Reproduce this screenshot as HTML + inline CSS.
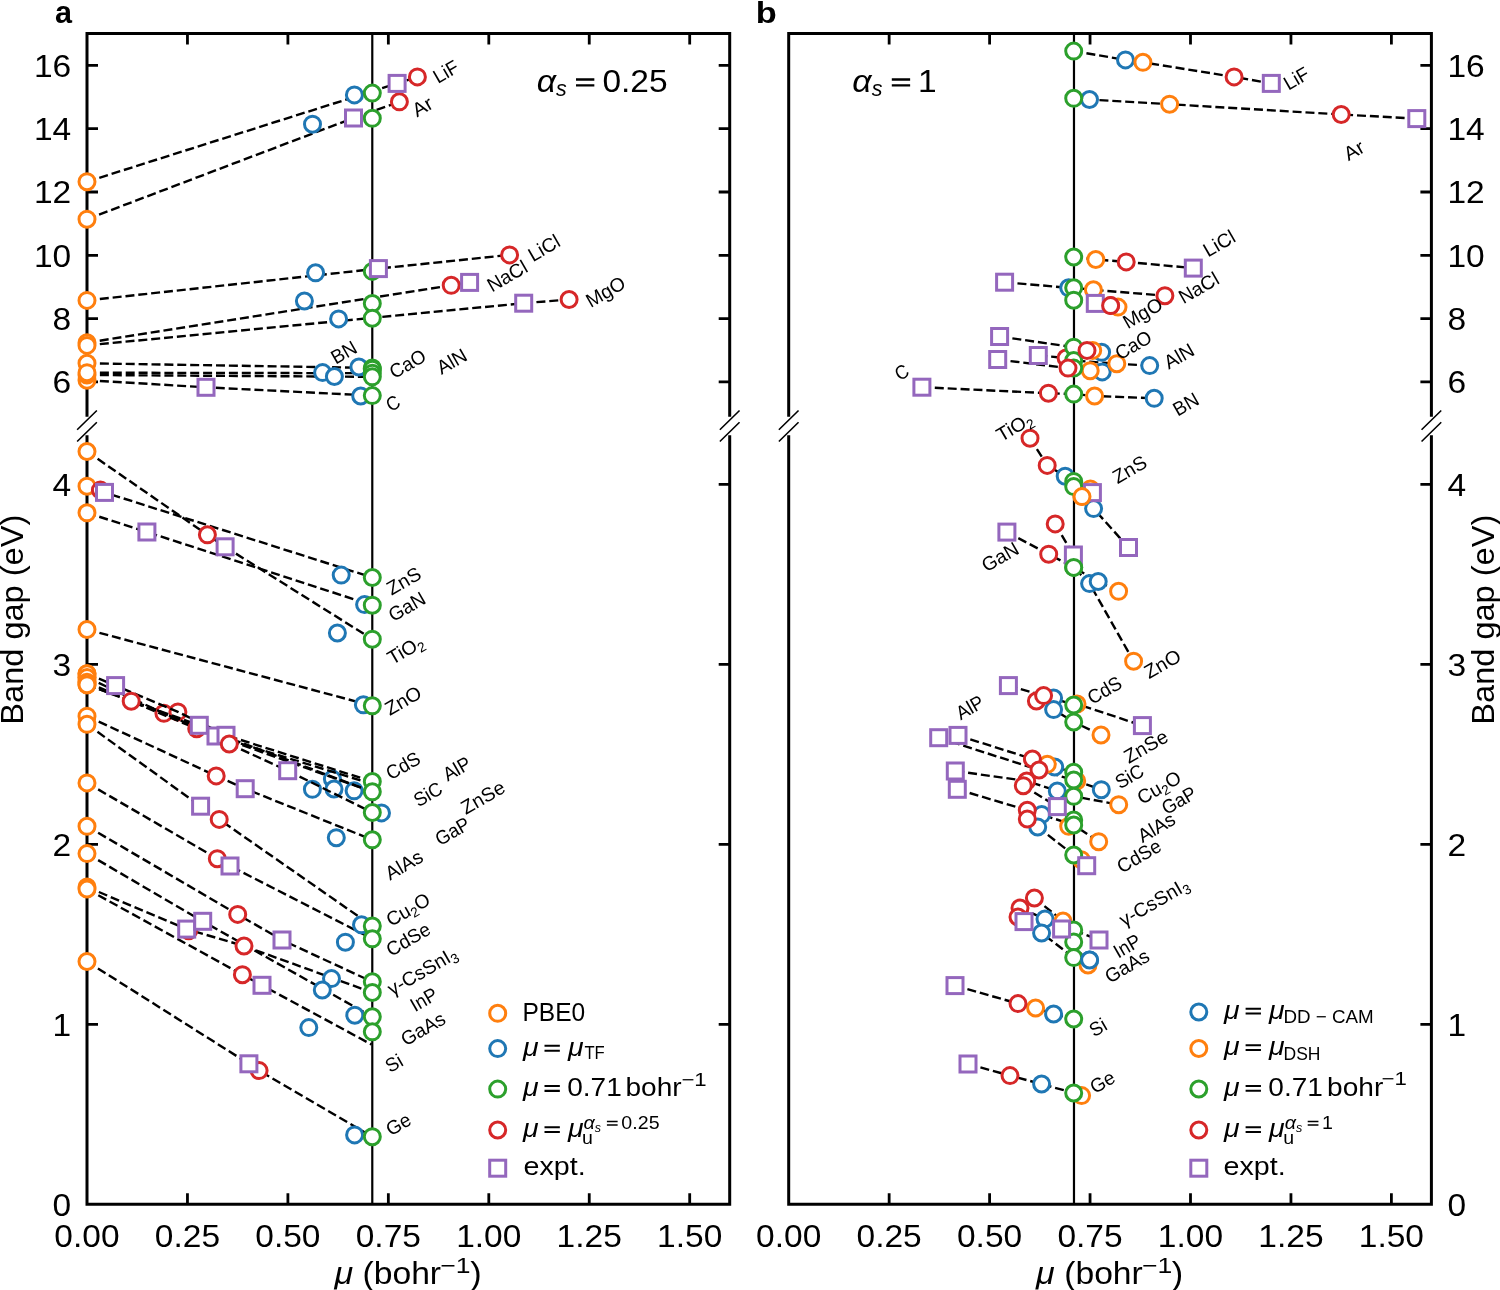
<!DOCTYPE html><html><head><meta charset="utf-8"><title>Band gap vs mu</title><style>html,body{margin:0;padding:0;background:#fff;overflow:hidden}svg{display:block;will-change:transform}text{font-family:"Liberation Sans",sans-serif;fill:#000}</style></head><body>
<svg width="1500" height="1290" viewBox="0 0 1500 1290">
<rect width="1500" height="1290" fill="#fff"/>
<path d="M372.28 33.60V1204.30" stroke="#000" stroke-width="2.2" fill="none"/>
<path d="M87.00 181.70L397.10 83.40L417.40 76.90" fill="none" stroke="#000" stroke-width="2.4" stroke-dasharray="9.0 3.9"/>
<path d="M87.00 219.20L353.50 118.00L399.40 101.80" fill="none" stroke="#000" stroke-width="2.4" stroke-dasharray="9.0 3.9"/>
<path d="M87.00 300.40L378.40 268.60L509.60 254.90" fill="none" stroke="#000" stroke-width="2.4" stroke-dasharray="9.0 3.9"/>
<path d="M87.00 342.70L451.20 285.30L469.60 282.40" fill="none" stroke="#000" stroke-width="2.4" stroke-dasharray="9.0 3.9"/>
<path d="M87.00 345.40L523.70 303.20L569.10 299.50" fill="none" stroke="#000" stroke-width="2.4" stroke-dasharray="9.0 3.9"/>
<path d="M87.00 363.30L372.10 367.90" fill="none" stroke="#000" stroke-width="2.4" stroke-dasharray="9.0 3.9"/>
<path d="M87.00 372.70L372.10 373.20" fill="none" stroke="#000" stroke-width="2.4" stroke-dasharray="9.0 3.9"/>
<path d="M87.00 375.00L372.10 376.80" fill="none" stroke="#000" stroke-width="2.4" stroke-dasharray="9.0 3.9"/>
<path d="M87.00 380.20L206.00 387.30L372.10 395.60" fill="none" stroke="#000" stroke-width="2.4" stroke-dasharray="9.0 3.9"/>
<path d="M87.00 451.50L207.40 534.80L225.10 546.80L372.30 639.20" fill="none" stroke="#000" stroke-width="2.4" stroke-dasharray="9.0 3.9"/>
<path d="M87.00 486.20L104.50 492.40L372.30 577.50" fill="none" stroke="#000" stroke-width="2.4" stroke-dasharray="9.0 3.9"/>
<path d="M87.00 512.80L146.90 532.00L372.30 605.20" fill="none" stroke="#000" stroke-width="2.4" stroke-dasharray="9.0 3.9"/>
<path d="M87.00 629.50L372.30 705.80" fill="none" stroke="#000" stroke-width="2.4" stroke-dasharray="9.0 3.9"/>
<path d="M87.00 716.20L216.20 775.90L245.20 788.70L372.30 839.80" fill="none" stroke="#000" stroke-width="2.4" stroke-dasharray="9.0 3.9"/>
<path d="M87.00 724.30L200.60 806.20L219.20 819.40L372.30 926.00" fill="none" stroke="#000" stroke-width="2.4" stroke-dasharray="9.0 3.9"/>
<path d="M87.00 782.90L217.30 858.70L230.00 866.00L372.30 938.80" fill="none" stroke="#000" stroke-width="2.4" stroke-dasharray="9.0 3.9"/>
<path d="M87.00 826.30L237.70 914.40L282.00 940.00L372.30 981.80" fill="none" stroke="#000" stroke-width="2.4" stroke-dasharray="9.0 3.9"/>
<path d="M87.00 853.60L202.70 921.30L372.30 1016.80" fill="none" stroke="#000" stroke-width="2.4" stroke-dasharray="9.0 3.9"/>
<path d="M87.00 887.00L186.70 929.10L244.00 946.00L372.30 992.50" fill="none" stroke="#000" stroke-width="2.4" stroke-dasharray="9.0 3.9"/>
<path d="M87.00 889.00L242.40 974.70L262.00 985.30L371.50 1044.50" fill="none" stroke="#000" stroke-width="2.4" stroke-dasharray="9.0 3.9"/>
<path d="M87.00 961.50L248.90 1063.80L259.10 1070.60L372.30 1136.70" fill="none" stroke="#000" stroke-width="2.4" stroke-dasharray="9.0 3.9"/>
<path d="M87.00 416.70V33.60H729.70V416.70" fill="none" stroke="#000" stroke-width="3.0" stroke-linejoin="miter" stroke-linecap="butt"/>
<path d="M87.00 435.20V1204.30H729.70V435.20" fill="none" stroke="#000" stroke-width="3.0" stroke-linejoin="miter" stroke-linecap="butt"/>
<path d="M187.45 33.60v11.0M187.45 1204.30v-11.0M287.90 33.60v11.0M287.90 1204.30v-11.0M388.35 33.60v11.0M388.35 1204.30v-11.0M488.80 33.60v11.0M488.80 1204.30v-11.0M589.25 33.60v11.0M589.25 1204.30v-11.0M689.70 33.60v11.0M689.70 1204.30v-11.0M87.00 381.90h11.0M729.70 381.90h-11.0M87.00 318.60h11.0M729.70 318.60h-11.0M87.00 255.30h11.0M729.70 255.30h-11.0M87.00 192.00h11.0M729.70 192.00h-11.0M87.00 128.70h11.0M729.70 128.70h-11.0M87.00 65.40h11.0M729.70 65.40h-11.0M87.00 1024.30h11.0M729.70 1024.30h-11.0M87.00 844.30h11.0M729.70 844.30h-11.0M87.00 664.30h11.0M729.70 664.30h-11.0M87.00 484.30h11.0M729.70 484.30h-11.0" stroke="#000" stroke-width="2.8" fill="none"/>
<path d="M77.15 429.70L96.85 410.50M77.15 441.50L96.85 422.30M719.85 429.70L739.55 410.50M719.85 441.50L739.55 422.30" stroke="#000" stroke-width="1.6" fill="none"/>
<circle cx="87.00" cy="181.70" r="8.0" fill="#fff" stroke="#ff7f0e" stroke-width="3.0"/>
<circle cx="87.00" cy="219.20" r="8.0" fill="#fff" stroke="#ff7f0e" stroke-width="3.0"/>
<circle cx="87.00" cy="300.40" r="8.0" fill="#fff" stroke="#ff7f0e" stroke-width="3.0"/>
<circle cx="87.00" cy="342.70" r="8.0" fill="#fff" stroke="#ff7f0e" stroke-width="3.0"/>
<circle cx="87.00" cy="345.40" r="8.0" fill="#fff" stroke="#ff7f0e" stroke-width="3.0"/>
<circle cx="87.00" cy="363.30" r="8.0" fill="#fff" stroke="#ff7f0e" stroke-width="3.0"/>
<circle cx="87.00" cy="380.20" r="8.0" fill="#fff" stroke="#ff7f0e" stroke-width="3.0"/>
<circle cx="87.00" cy="375.00" r="8.0" fill="#fff" stroke="#ff7f0e" stroke-width="3.0"/>
<circle cx="87.00" cy="372.70" r="8.0" fill="#fff" stroke="#ff7f0e" stroke-width="3.0"/>
<circle cx="87.00" cy="451.50" r="8.0" fill="#fff" stroke="#ff7f0e" stroke-width="3.0"/>
<circle cx="87.00" cy="486.20" r="8.0" fill="#fff" stroke="#ff7f0e" stroke-width="3.0"/>
<circle cx="87.00" cy="512.80" r="8.0" fill="#fff" stroke="#ff7f0e" stroke-width="3.0"/>
<circle cx="87.00" cy="629.50" r="8.0" fill="#fff" stroke="#ff7f0e" stroke-width="3.0"/>
<circle cx="87.00" cy="673.70" r="8.0" fill="#fff" stroke="#ff7f0e" stroke-width="3.0"/>
<circle cx="87.00" cy="677.50" r="8.0" fill="#fff" stroke="#ff7f0e" stroke-width="3.0"/>
<circle cx="87.00" cy="682.20" r="8.0" fill="#fff" stroke="#ff7f0e" stroke-width="3.0"/>
<circle cx="87.00" cy="684.70" r="8.0" fill="#fff" stroke="#ff7f0e" stroke-width="3.0"/>
<circle cx="87.00" cy="716.20" r="8.0" fill="#fff" stroke="#ff7f0e" stroke-width="3.0"/>
<circle cx="87.00" cy="724.30" r="8.0" fill="#fff" stroke="#ff7f0e" stroke-width="3.0"/>
<circle cx="87.00" cy="782.90" r="8.0" fill="#fff" stroke="#ff7f0e" stroke-width="3.0"/>
<circle cx="87.00" cy="826.30" r="8.0" fill="#fff" stroke="#ff7f0e" stroke-width="3.0"/>
<circle cx="87.00" cy="853.60" r="8.0" fill="#fff" stroke="#ff7f0e" stroke-width="3.0"/>
<circle cx="87.00" cy="887.00" r="8.0" fill="#fff" stroke="#ff7f0e" stroke-width="3.0"/>
<circle cx="87.00" cy="889.00" r="8.0" fill="#fff" stroke="#ff7f0e" stroke-width="3.0"/>
<circle cx="87.00" cy="961.50" r="8.0" fill="#fff" stroke="#ff7f0e" stroke-width="3.0"/>
<circle cx="354.40" cy="94.90" r="8.0" fill="#fff" stroke="#1f77b4" stroke-width="3.0"/>
<circle cx="312.50" cy="124.20" r="8.0" fill="#fff" stroke="#1f77b4" stroke-width="3.0"/>
<circle cx="315.60" cy="272.80" r="8.0" fill="#fff" stroke="#1f77b4" stroke-width="3.0"/>
<circle cx="304.40" cy="301.00" r="8.0" fill="#fff" stroke="#1f77b4" stroke-width="3.0"/>
<circle cx="338.60" cy="318.90" r="8.0" fill="#fff" stroke="#1f77b4" stroke-width="3.0"/>
<circle cx="322.60" cy="372.60" r="8.0" fill="#fff" stroke="#1f77b4" stroke-width="3.0"/>
<circle cx="334.40" cy="376.50" r="8.0" fill="#fff" stroke="#1f77b4" stroke-width="3.0"/>
<circle cx="358.90" cy="367.00" r="8.0" fill="#fff" stroke="#1f77b4" stroke-width="3.0"/>
<circle cx="360.70" cy="396.00" r="8.0" fill="#fff" stroke="#1f77b4" stroke-width="3.0"/>
<circle cx="341.20" cy="575.10" r="8.0" fill="#fff" stroke="#1f77b4" stroke-width="3.0"/>
<circle cx="364.60" cy="604.60" r="8.0" fill="#fff" stroke="#1f77b4" stroke-width="3.0"/>
<circle cx="337.40" cy="633.00" r="8.0" fill="#fff" stroke="#1f77b4" stroke-width="3.0"/>
<circle cx="363.40" cy="704.80" r="8.0" fill="#fff" stroke="#1f77b4" stroke-width="3.0"/>
<circle cx="332.40" cy="779.10" r="8.0" fill="#fff" stroke="#1f77b4" stroke-width="3.0"/>
<circle cx="312.40" cy="789.30" r="8.0" fill="#fff" stroke="#1f77b4" stroke-width="3.0"/>
<circle cx="334.00" cy="789.00" r="8.0" fill="#fff" stroke="#1f77b4" stroke-width="3.0"/>
<circle cx="354.10" cy="790.80" r="8.0" fill="#fff" stroke="#1f77b4" stroke-width="3.0"/>
<circle cx="381.50" cy="812.90" r="8.0" fill="#fff" stroke="#1f77b4" stroke-width="3.0"/>
<circle cx="336.30" cy="837.70" r="8.0" fill="#fff" stroke="#1f77b4" stroke-width="3.0"/>
<circle cx="361.50" cy="924.80" r="8.0" fill="#fff" stroke="#1f77b4" stroke-width="3.0"/>
<circle cx="345.40" cy="942.20" r="8.0" fill="#fff" stroke="#1f77b4" stroke-width="3.0"/>
<circle cx="331.50" cy="978.60" r="8.0" fill="#fff" stroke="#1f77b4" stroke-width="3.0"/>
<circle cx="322.30" cy="990.00" r="8.0" fill="#fff" stroke="#1f77b4" stroke-width="3.0"/>
<circle cx="354.80" cy="1015.20" r="8.0" fill="#fff" stroke="#1f77b4" stroke-width="3.0"/>
<circle cx="308.80" cy="1027.60" r="8.0" fill="#fff" stroke="#1f77b4" stroke-width="3.0"/>
<circle cx="354.60" cy="1134.90" r="8.0" fill="#fff" stroke="#1f77b4" stroke-width="3.0"/>
<circle cx="163.90" cy="713.30" r="8.0" fill="#fff" stroke="#d62728" stroke-width="3.0"/>
<circle cx="177.90" cy="711.90" r="8.0" fill="#fff" stroke="#d62728" stroke-width="3.0"/>
<path d="M87.00 673.70L115.60 685.60L177.90 711.90L226.00 735.30L372.30 781.50" fill="none" stroke="#000" stroke-width="2.4" stroke-dasharray="9.0 3.9"/>
<path d="M87.00 677.50L163.90 713.30L216.00 736.00L372.30 784.00" fill="none" stroke="#000" stroke-width="2.4" stroke-dasharray="9.0 3.9"/>
<path d="M87.00 682.20L131.20 701.20L196.70 728.70L372.30 791.80" fill="none" stroke="#000" stroke-width="2.4" stroke-dasharray="9.0 3.9"/>
<path d="M87.00 684.70L199.30 725.30L229.30 744.00L287.70 770.70L372.30 812.50" fill="none" stroke="#000" stroke-width="2.4" stroke-dasharray="9.0 3.9"/>
<path d="M87.00 684.70L372.30 791.80" fill="none" stroke="#000" stroke-width="2.4" stroke-dasharray="9.0 3.9"/>
<circle cx="87.00" cy="673.70" r="8.0" fill="#fff" stroke="#ff7f0e" stroke-width="3.0"/>
<circle cx="87.00" cy="677.50" r="8.0" fill="#fff" stroke="#ff7f0e" stroke-width="3.0"/>
<circle cx="87.00" cy="682.20" r="8.0" fill="#fff" stroke="#ff7f0e" stroke-width="3.0"/>
<circle cx="87.00" cy="684.70" r="8.0" fill="#fff" stroke="#ff7f0e" stroke-width="3.0"/>
<circle cx="372.30" cy="93.10" r="8.0" fill="#fff" stroke="#2ca02c" stroke-width="3.0"/>
<circle cx="372.30" cy="118.30" r="8.0" fill="#fff" stroke="#2ca02c" stroke-width="3.0"/>
<circle cx="372.30" cy="271.40" r="8.0" fill="#fff" stroke="#2ca02c" stroke-width="3.0"/>
<circle cx="372.30" cy="303.50" r="8.0" fill="#fff" stroke="#2ca02c" stroke-width="3.0"/>
<circle cx="372.30" cy="318.20" r="8.0" fill="#fff" stroke="#2ca02c" stroke-width="3.0"/>
<circle cx="372.30" cy="367.90" r="8.0" fill="#fff" stroke="#2ca02c" stroke-width="3.0"/>
<circle cx="372.30" cy="369.20" r="8.0" fill="#fff" stroke="#2ca02c" stroke-width="3.0"/>
<circle cx="372.30" cy="373.20" r="8.0" fill="#fff" stroke="#2ca02c" stroke-width="3.0"/>
<circle cx="372.30" cy="376.80" r="8.0" fill="#fff" stroke="#2ca02c" stroke-width="3.0"/>
<circle cx="372.30" cy="395.60" r="8.0" fill="#fff" stroke="#2ca02c" stroke-width="3.0"/>
<circle cx="372.30" cy="577.50" r="8.0" fill="#fff" stroke="#2ca02c" stroke-width="3.0"/>
<circle cx="372.30" cy="605.20" r="8.0" fill="#fff" stroke="#2ca02c" stroke-width="3.0"/>
<circle cx="372.30" cy="639.20" r="8.0" fill="#fff" stroke="#2ca02c" stroke-width="3.0"/>
<circle cx="372.30" cy="705.80" r="8.0" fill="#fff" stroke="#2ca02c" stroke-width="3.0"/>
<circle cx="372.30" cy="781.50" r="8.0" fill="#fff" stroke="#2ca02c" stroke-width="3.0"/>
<circle cx="372.30" cy="791.80" r="8.0" fill="#fff" stroke="#2ca02c" stroke-width="3.0"/>
<circle cx="372.30" cy="812.50" r="8.0" fill="#fff" stroke="#2ca02c" stroke-width="3.0"/>
<circle cx="372.30" cy="839.80" r="8.0" fill="#fff" stroke="#2ca02c" stroke-width="3.0"/>
<circle cx="372.30" cy="926.00" r="8.0" fill="#fff" stroke="#2ca02c" stroke-width="3.0"/>
<circle cx="372.30" cy="938.80" r="8.0" fill="#fff" stroke="#2ca02c" stroke-width="3.0"/>
<circle cx="372.30" cy="981.80" r="8.0" fill="#fff" stroke="#2ca02c" stroke-width="3.0"/>
<circle cx="372.30" cy="992.50" r="8.0" fill="#fff" stroke="#2ca02c" stroke-width="3.0"/>
<circle cx="372.30" cy="1016.80" r="8.0" fill="#fff" stroke="#2ca02c" stroke-width="3.0"/>
<circle cx="372.30" cy="1031.80" r="8.0" fill="#fff" stroke="#2ca02c" stroke-width="3.0"/>
<circle cx="372.30" cy="1136.70" r="8.0" fill="#fff" stroke="#2ca02c" stroke-width="3.0"/>
<circle cx="417.40" cy="76.90" r="8.0" fill="#fff" stroke="#d62728" stroke-width="3.0"/>
<circle cx="399.40" cy="101.80" r="8.0" fill="#fff" stroke="#d62728" stroke-width="3.0"/>
<circle cx="509.60" cy="254.90" r="8.0" fill="#fff" stroke="#d62728" stroke-width="3.0"/>
<circle cx="451.20" cy="285.30" r="8.0" fill="#fff" stroke="#d62728" stroke-width="3.0"/>
<circle cx="569.10" cy="299.50" r="8.0" fill="#fff" stroke="#d62728" stroke-width="3.0"/>
<circle cx="100.40" cy="490.10" r="8.0" fill="#fff" stroke="#d62728" stroke-width="3.0"/>
<circle cx="207.40" cy="534.80" r="8.0" fill="#fff" stroke="#d62728" stroke-width="3.0"/>
<circle cx="131.20" cy="701.20" r="8.0" fill="#fff" stroke="#d62728" stroke-width="3.0"/>
<circle cx="196.70" cy="728.70" r="8.0" fill="#fff" stroke="#d62728" stroke-width="3.0"/>
<circle cx="216.20" cy="775.90" r="8.0" fill="#fff" stroke="#d62728" stroke-width="3.0"/>
<circle cx="219.20" cy="819.40" r="8.0" fill="#fff" stroke="#d62728" stroke-width="3.0"/>
<circle cx="217.30" cy="858.70" r="8.0" fill="#fff" stroke="#d62728" stroke-width="3.0"/>
<circle cx="237.70" cy="914.40" r="8.0" fill="#fff" stroke="#d62728" stroke-width="3.0"/>
<circle cx="188.70" cy="930.70" r="8.0" fill="#fff" stroke="#d62728" stroke-width="3.0"/>
<circle cx="244.00" cy="946.00" r="8.0" fill="#fff" stroke="#d62728" stroke-width="3.0"/>
<circle cx="242.40" cy="974.70" r="8.0" fill="#fff" stroke="#d62728" stroke-width="3.0"/>
<circle cx="259.10" cy="1070.60" r="8.0" fill="#fff" stroke="#d62728" stroke-width="3.0"/>
<rect x="389.10" y="75.40" width="16.00" height="16.00" fill="#fff" stroke="#9467bd" stroke-width="3.0"/>
<rect x="345.50" y="110.00" width="16.00" height="16.00" fill="#fff" stroke="#9467bd" stroke-width="3.0"/>
<rect x="370.40" y="260.60" width="16.00" height="16.00" fill="#fff" stroke="#9467bd" stroke-width="3.0"/>
<rect x="461.60" y="274.40" width="16.00" height="16.00" fill="#fff" stroke="#9467bd" stroke-width="3.0"/>
<rect x="515.70" y="295.20" width="16.00" height="16.00" fill="#fff" stroke="#9467bd" stroke-width="3.0"/>
<rect x="198.00" y="379.30" width="16.00" height="16.00" fill="#fff" stroke="#9467bd" stroke-width="3.0"/>
<rect x="96.50" y="484.40" width="16.00" height="16.00" fill="#fff" stroke="#9467bd" stroke-width="3.0"/>
<rect x="138.90" y="524.00" width="16.00" height="16.00" fill="#fff" stroke="#9467bd" stroke-width="3.0"/>
<rect x="217.10" y="538.80" width="16.00" height="16.00" fill="#fff" stroke="#9467bd" stroke-width="3.0"/>
<rect x="107.60" y="677.60" width="16.00" height="16.00" fill="#fff" stroke="#9467bd" stroke-width="3.0"/>
<rect x="191.30" y="717.30" width="16.00" height="16.00" fill="#fff" stroke="#9467bd" stroke-width="3.0"/>
<rect x="208.00" y="728.00" width="16.00" height="16.00" fill="#fff" stroke="#9467bd" stroke-width="3.0"/>
<rect x="218.00" y="727.30" width="16.00" height="16.00" fill="#fff" stroke="#9467bd" stroke-width="3.0"/>
<rect x="279.70" y="762.70" width="16.00" height="16.00" fill="#fff" stroke="#9467bd" stroke-width="3.0"/>
<rect x="237.20" y="780.70" width="16.00" height="16.00" fill="#fff" stroke="#9467bd" stroke-width="3.0"/>
<rect x="192.60" y="798.20" width="16.00" height="16.00" fill="#fff" stroke="#9467bd" stroke-width="3.0"/>
<rect x="222.00" y="858.00" width="16.00" height="16.00" fill="#fff" stroke="#9467bd" stroke-width="3.0"/>
<rect x="178.70" y="921.10" width="16.00" height="16.00" fill="#fff" stroke="#9467bd" stroke-width="3.0"/>
<rect x="194.70" y="913.30" width="16.00" height="16.00" fill="#fff" stroke="#9467bd" stroke-width="3.0"/>
<rect x="274.00" y="932.00" width="16.00" height="16.00" fill="#fff" stroke="#9467bd" stroke-width="3.0"/>
<rect x="254.00" y="977.30" width="16.00" height="16.00" fill="#fff" stroke="#9467bd" stroke-width="3.0"/>
<rect x="240.90" y="1055.80" width="16.00" height="16.00" fill="#fff" stroke="#9467bd" stroke-width="3.0"/>
<circle cx="229.30" cy="744.00" r="8.0" fill="#fff" stroke="#d62728" stroke-width="3.0"/>
<text x="87.00" y="1246.50" font-size="31.05" text-anchor="middle" textLength="65.24" lengthAdjust="spacingAndGlyphs">0.00</text>
<text x="187.45" y="1246.50" font-size="31.05" text-anchor="middle" textLength="65.24" lengthAdjust="spacingAndGlyphs">0.25</text>
<text x="287.90" y="1246.50" font-size="31.05" text-anchor="middle" textLength="65.24" lengthAdjust="spacingAndGlyphs">0.50</text>
<text x="388.35" y="1246.50" font-size="31.05" text-anchor="middle" textLength="65.24" lengthAdjust="spacingAndGlyphs">0.75</text>
<text x="488.80" y="1246.50" font-size="31.05" text-anchor="middle" textLength="65.24" lengthAdjust="spacingAndGlyphs">1.00</text>
<text x="589.25" y="1246.50" font-size="31.05" text-anchor="middle" textLength="65.24" lengthAdjust="spacingAndGlyphs">1.25</text>
<text x="689.70" y="1246.50" font-size="31.05" text-anchor="middle" textLength="65.24" lengthAdjust="spacingAndGlyphs">1.50</text>
<text x="71.20" y="393.20" font-size="31.05" text-anchor="end" textLength="18.64" lengthAdjust="spacingAndGlyphs">6</text>
<text x="71.20" y="329.90" font-size="31.05" text-anchor="end" textLength="18.64" lengthAdjust="spacingAndGlyphs">8</text>
<text x="71.20" y="266.60" font-size="31.05" text-anchor="end" textLength="37.28" lengthAdjust="spacingAndGlyphs">10</text>
<text x="71.20" y="203.30" font-size="31.05" text-anchor="end" textLength="37.28" lengthAdjust="spacingAndGlyphs">12</text>
<text x="71.20" y="140.00" font-size="31.05" text-anchor="end" textLength="37.28" lengthAdjust="spacingAndGlyphs">14</text>
<text x="71.20" y="76.70" font-size="31.05" text-anchor="end" textLength="37.28" lengthAdjust="spacingAndGlyphs">16</text>
<text x="71.20" y="1215.60" font-size="31.05" text-anchor="end" textLength="18.64" lengthAdjust="spacingAndGlyphs">0</text>
<text x="71.20" y="1035.60" font-size="31.05" text-anchor="end" textLength="18.64" lengthAdjust="spacingAndGlyphs">1</text>
<text x="71.20" y="855.60" font-size="31.05" text-anchor="end" textLength="18.64" lengthAdjust="spacingAndGlyphs">2</text>
<text x="71.20" y="675.60" font-size="31.05" text-anchor="end" textLength="18.64" lengthAdjust="spacingAndGlyphs">3</text>
<text x="71.20" y="495.60" font-size="31.05" text-anchor="end" textLength="18.64" lengthAdjust="spacingAndGlyphs">4</text>
<text x="437.92" y="83.99" font-size="19.50" textLength="25.95" lengthAdjust="spacingAndGlyphs" transform="rotate(-30.00 437.92 83.99)">LiF</text>
<text x="417.13" y="117.55" font-size="19.50" textLength="20.15" lengthAdjust="spacingAndGlyphs" transform="rotate(-30.00 417.13 117.55)">Ar</text>
<text x="532.92" y="262.14" font-size="19.50" textLength="33.32" lengthAdjust="spacingAndGlyphs" transform="rotate(-30.00 532.92 262.14)">LiCl</text>
<text x="491.93" y="292.56" font-size="19.50" textLength="43.00" lengthAdjust="spacingAndGlyphs" transform="rotate(-30.00 491.93 292.56)">NaCl</text>
<text x="590.75" y="308.02" font-size="19.50" textLength="42.04" lengthAdjust="spacingAndGlyphs" transform="rotate(-30.00 590.75 308.02)">MgO</text>
<text x="335.83" y="364.81" font-size="19.50" textLength="26.39" lengthAdjust="spacingAndGlyphs" transform="rotate(-30.00 335.83 364.81)">BN</text>
<text x="394.34" y="379.26" font-size="19.50" textLength="38.61" lengthAdjust="spacingAndGlyphs" transform="rotate(-30.00 394.34 379.26)">CaO</text>
<text x="441.43" y="375.07" font-size="19.50" textLength="31.46" lengthAdjust="spacingAndGlyphs" transform="rotate(-30.00 441.43 375.07)">AlN</text>
<text x="390.79" y="412.32" font-size="19.50" textLength="12.85" lengthAdjust="spacingAndGlyphs" transform="rotate(-30.00 390.79 412.32)">C</text>
<text x="391.59" y="595.79" font-size="19.50" textLength="35.95" lengthAdjust="spacingAndGlyphs" transform="rotate(-30.00 391.59 595.79)">ZnS</text>
<text x="393.14" y="622.33" font-size="19.50" textLength="39.30" lengthAdjust="spacingAndGlyphs" transform="rotate(-30.00 393.14 622.33)">GaN</text>
<text x="392.20" y="665.22" font-size="19.50" textLength="38.46" lengthAdjust="spacingAndGlyphs" transform="rotate(-30 392.20 665.22)"><tspan>TiO</tspan><tspan font-size="13.65" dy="3.6">2</tspan></text>
<text x="389.67" y="716.00" font-size="19.50" textLength="38.75" lengthAdjust="spacingAndGlyphs" transform="rotate(-30.00 389.67 716.00)">ZnO</text>
<text x="390.78" y="780.56" font-size="19.50" textLength="36.21" lengthAdjust="spacingAndGlyphs" transform="rotate(-30.00 390.78 780.56)">CdS</text>
<text x="418.42" y="807.42" font-size="19.50" textLength="29.64" lengthAdjust="spacingAndGlyphs" transform="rotate(-30.00 418.42 807.42)">SiC</text>
<text x="447.68" y="781.81" font-size="19.50" textLength="28.79" lengthAdjust="spacingAndGlyphs" transform="rotate(-30.00 447.68 781.81)">AlP</text>
<text x="465.79" y="814.93" font-size="19.50" textLength="47.27" lengthAdjust="spacingAndGlyphs" transform="rotate(-30.00 465.79 814.93)">ZnSe</text>
<text x="439.99" y="846.17" font-size="19.50" textLength="36.63" lengthAdjust="spacingAndGlyphs" transform="rotate(-30.00 439.99 846.17)">GaP</text>
<text x="390.09" y="880.68" font-size="19.50" textLength="39.87" lengthAdjust="spacingAndGlyphs" transform="rotate(-30.00 390.09 880.68)">AlAs</text>
<text x="390.92" y="927.11" font-size="19.50" textLength="47.19" lengthAdjust="spacingAndGlyphs" transform="rotate(-30 390.92 927.11)"><tspan>Cu</tspan><tspan font-size="13.65" dy="3.6">2</tspan><tspan dy="-3.6">O</tspan></text>
<text x="391.07" y="956.89" font-size="19.50" textLength="47.53" lengthAdjust="spacingAndGlyphs" transform="rotate(-30.00 391.07 956.89)">CdSe</text>
<text x="392.24" y="996.04" font-size="19.50" textLength="76.93" lengthAdjust="spacingAndGlyphs" transform="rotate(-30 392.24 996.04)"><tspan>γ-CsSnI</tspan><tspan font-size="13.65" dy="3.6">3</tspan></text>
<text x="414.95" y="1012.25" font-size="19.50" textLength="28.18" lengthAdjust="spacingAndGlyphs" transform="rotate(-30.00 414.95 1012.25)">InP</text>
<text x="405.70" y="1046.54" font-size="19.50" textLength="47.71" lengthAdjust="spacingAndGlyphs" transform="rotate(-30.00 405.70 1046.54)">GaAs</text>
<text x="390.08" y="1073.31" font-size="19.50" textLength="16.79" lengthAdjust="spacingAndGlyphs" transform="rotate(-30.00 390.08 1073.31)">Si</text>
<text x="390.68" y="1136.50" font-size="19.50" textLength="25.58" lengthAdjust="spacingAndGlyphs" transform="rotate(-30.00 390.68 1136.50)">Ge</text>
<text x="334.40" y="1284.00" font-size="31.05" textLength="18.64" lengthAdjust="spacingAndGlyphs" font-style="italic">μ</text>
<text x="362.51" y="1284.00" font-size="31.05" textLength="78.57" lengthAdjust="spacingAndGlyphs">(bohr</text>
<text x="440.25" y="1272.80" font-size="21.73" textLength="30.23" lengthAdjust="spacingAndGlyphs">−1</text>
<text x="470.16" y="1284.00" font-size="31.05" textLength="11.43" lengthAdjust="spacingAndGlyphs">)</text>
<path d="M1073.98 33.60V1204.30" stroke="#000" stroke-width="2.2" fill="none"/>
<path d="M1073.70 51.10L1125.50 59.90L1142.90 62.30L1234.10 76.90L1271.30 83.40" fill="none" stroke="#000" stroke-width="2.4" stroke-dasharray="9.0 3.9"/>
<path d="M1073.70 98.30L1089.50 99.50L1169.60 104.20L1341.20 114.50L1416.80 118.60" fill="none" stroke="#000" stroke-width="2.4" stroke-dasharray="9.0 3.9"/>
<path d="M1073.70 257.00L1095.80 259.50L1126.20 261.90L1193.30 268.10" fill="none" stroke="#000" stroke-width="2.4" stroke-dasharray="9.0 3.9"/>
<path d="M1004.60 282.20L1068.70 287.80L1073.70 287.80L1093.40 289.80L1164.90 295.70" fill="none" stroke="#000" stroke-width="2.4" stroke-dasharray="9.0 3.9"/>
<path d="M1073.70 300.20L1095.30 303.40L1110.60 305.60L1118.00 307.10" fill="none" stroke="#000" stroke-width="2.4" stroke-dasharray="9.0 3.9"/>
<path d="M999.60 336.50L1073.70 347.20L1087.00 350.40L1092.70 350.40L1101.60 352.30" fill="none" stroke="#000" stroke-width="2.4" stroke-dasharray="9.0 3.9"/>
<path d="M1038.30 355.50L1066.10 358.00L1073.70 360.50L1116.80 363.70L1149.70 365.60" fill="none" stroke="#000" stroke-width="2.4" stroke-dasharray="9.0 3.9"/>
<path d="M997.70 359.50L1068.00 368.10L1073.70 368.10L1090.20 370.70L1102.20 371.90" fill="none" stroke="#000" stroke-width="2.4" stroke-dasharray="9.0 3.9"/>
<path d="M921.90 387.20L1048.40 393.20L1073.70 394.10L1094.60 396.00L1154.20 398.30" fill="none" stroke="#000" stroke-width="2.4" stroke-dasharray="9.0 3.9"/>
<path d="M1030.00 438.20L1047.20 465.40L1065.20 476.20L1073.70 481.40L1073.70 486.60L1082.00 496.60L1093.60 508.60L1128.50 547.50" fill="none" stroke="#000" stroke-width="2.4" stroke-dasharray="9.0 3.9"/>
<path d="M1006.90 532.10L1048.70 554.20L1073.70 567.40L1089.60 583.60L1133.60 661.20" fill="none" stroke="#000" stroke-width="2.4" stroke-dasharray="9.0 3.9"/>
<path d="M1055.20 523.90L1073.40 555.00L1073.70 567.40L1098.20 581.50L1118.60 591.30" fill="none" stroke="#000" stroke-width="2.4" stroke-dasharray="9.0 3.9"/>
<path d="M1008.40 685.60L1043.60 695.60L1053.60 698.00L1073.70 705.00L1077.00 704.00L1142.40 725.60" fill="none" stroke="#000" stroke-width="2.4" stroke-dasharray="9.0 3.9"/>
<path d="M1036.40 701.00L1053.60 709.60L1073.70 722.00L1101.00 735.00" fill="none" stroke="#000" stroke-width="2.4" stroke-dasharray="9.0 3.9"/>
<path d="M958.00 735.40L1032.40 759.00L1047.30 764.30L1054.70 767.00L1073.70 772.30" fill="none" stroke="#000" stroke-width="2.4" stroke-dasharray="9.0 3.9"/>
<path d="M938.70 737.70L1039.00 770.00L1073.70 780.00L1101.30 789.70" fill="none" stroke="#000" stroke-width="2.4" stroke-dasharray="9.0 3.9"/>
<path d="M955.30 771.00L1026.70 781.00L1057.30 791.00L1073.70 796.30L1118.70 804.70" fill="none" stroke="#000" stroke-width="2.4" stroke-dasharray="9.0 3.9"/>
<path d="M1023.30 785.70L1057.30 806.60L1073.70 820.00" fill="none" stroke="#000" stroke-width="2.4" stroke-dasharray="9.0 3.9"/>
<path d="M957.30 789.30L1027.30 810.30L1041.70 814.60L1073.70 825.00L1098.70 841.70" fill="none" stroke="#000" stroke-width="2.4" stroke-dasharray="9.0 3.9"/>
<path d="M1037.70 827.00L1073.70 855.00L1086.70 865.70" fill="none" stroke="#000" stroke-width="2.4" stroke-dasharray="9.0 3.9"/>
<path d="M1034.40 898.00L1063.00 921.00L1073.70 930.00L1099.00 940.00" fill="none" stroke="#000" stroke-width="2.4" stroke-dasharray="9.0 3.9"/>
<path d="M1020.00 908.00L1045.00 919.00L1061.60 929.00L1073.70 942.00L1088.00 965.00" fill="none" stroke="#000" stroke-width="2.4" stroke-dasharray="9.0 3.9"/>
<path d="M1024.00 921.60L1041.60 933.00L1073.70 957.60L1089.60 960.00" fill="none" stroke="#000" stroke-width="2.4" stroke-dasharray="9.0 3.9"/>
<path d="M955.00 985.60L1018.00 1003.60L1035.60 1008.00L1053.60 1014.00L1073.70 1019.00" fill="none" stroke="#000" stroke-width="2.4" stroke-dasharray="9.0 3.9"/>
<path d="M968.00 1064.00L1010.00 1075.60L1041.60 1084.00L1073.70 1093.00L1081.60 1095.60" fill="none" stroke="#000" stroke-width="2.4" stroke-dasharray="9.0 3.9"/>
<path d="M788.70 416.70V33.60H1431.40V416.70" fill="none" stroke="#000" stroke-width="3.0" stroke-linejoin="miter" stroke-linecap="butt"/>
<path d="M788.70 435.20V1204.30H1431.40V435.20" fill="none" stroke="#000" stroke-width="3.0" stroke-linejoin="miter" stroke-linecap="butt"/>
<path d="M889.15 33.60v11.0M889.15 1204.30v-11.0M989.60 33.60v11.0M989.60 1204.30v-11.0M1090.05 33.60v11.0M1090.05 1204.30v-11.0M1190.50 33.60v11.0M1190.50 1204.30v-11.0M1290.95 33.60v11.0M1290.95 1204.30v-11.0M1391.40 33.60v11.0M1391.40 1204.30v-11.0M1431.40 381.90h-11.0M1431.40 318.60h-11.0M1431.40 255.30h-11.0M1431.40 192.00h-11.0M1431.40 128.70h-11.0M1431.40 65.40h-11.0M1431.40 1024.30h-11.0M1431.40 844.30h-11.0M1431.40 664.30h-11.0M1431.40 484.30h-11.0" stroke="#000" stroke-width="2.8" fill="none"/>
<path d="M778.85 429.70L798.55 410.50M778.85 441.50L798.55 422.30M1421.55 429.70L1441.25 410.50M1421.55 441.50L1441.25 422.30" stroke="#000" stroke-width="1.6" fill="none"/>
<circle cx="1125.50" cy="59.90" r="8.0" fill="#fff" stroke="#1f77b4" stroke-width="3.0"/>
<circle cx="1089.50" cy="99.50" r="8.0" fill="#fff" stroke="#1f77b4" stroke-width="3.0"/>
<circle cx="1068.70" cy="287.80" r="8.0" fill="#fff" stroke="#1f77b4" stroke-width="3.0"/>
<circle cx="1101.60" cy="352.30" r="8.0" fill="#fff" stroke="#1f77b4" stroke-width="3.0"/>
<circle cx="1149.70" cy="365.60" r="8.0" fill="#fff" stroke="#1f77b4" stroke-width="3.0"/>
<circle cx="1102.20" cy="371.90" r="8.0" fill="#fff" stroke="#1f77b4" stroke-width="3.0"/>
<circle cx="1154.20" cy="398.30" r="8.0" fill="#fff" stroke="#1f77b4" stroke-width="3.0"/>
<circle cx="1065.20" cy="476.20" r="8.0" fill="#fff" stroke="#1f77b4" stroke-width="3.0"/>
<circle cx="1093.60" cy="508.60" r="8.0" fill="#fff" stroke="#1f77b4" stroke-width="3.0"/>
<circle cx="1089.60" cy="583.60" r="8.0" fill="#fff" stroke="#1f77b4" stroke-width="3.0"/>
<circle cx="1098.20" cy="581.50" r="8.0" fill="#fff" stroke="#1f77b4" stroke-width="3.0"/>
<circle cx="1053.60" cy="698.00" r="8.0" fill="#fff" stroke="#1f77b4" stroke-width="3.0"/>
<circle cx="1053.60" cy="709.60" r="8.0" fill="#fff" stroke="#1f77b4" stroke-width="3.0"/>
<circle cx="1054.70" cy="767.00" r="8.0" fill="#fff" stroke="#1f77b4" stroke-width="3.0"/>
<circle cx="1057.30" cy="791.00" r="8.0" fill="#fff" stroke="#1f77b4" stroke-width="3.0"/>
<circle cx="1041.70" cy="814.60" r="8.0" fill="#fff" stroke="#1f77b4" stroke-width="3.0"/>
<circle cx="1037.70" cy="827.00" r="8.0" fill="#fff" stroke="#1f77b4" stroke-width="3.0"/>
<circle cx="1101.30" cy="789.70" r="8.0" fill="#fff" stroke="#1f77b4" stroke-width="3.0"/>
<circle cx="1045.00" cy="919.00" r="8.0" fill="#fff" stroke="#1f77b4" stroke-width="3.0"/>
<circle cx="1041.60" cy="933.00" r="8.0" fill="#fff" stroke="#1f77b4" stroke-width="3.0"/>
<circle cx="1089.60" cy="960.00" r="8.0" fill="#fff" stroke="#1f77b4" stroke-width="3.0"/>
<circle cx="1053.60" cy="1014.00" r="8.0" fill="#fff" stroke="#1f77b4" stroke-width="3.0"/>
<circle cx="1041.60" cy="1084.00" r="8.0" fill="#fff" stroke="#1f77b4" stroke-width="3.0"/>
<circle cx="1142.90" cy="62.30" r="8.0" fill="#fff" stroke="#ff7f0e" stroke-width="3.0"/>
<circle cx="1169.60" cy="104.20" r="8.0" fill="#fff" stroke="#ff7f0e" stroke-width="3.0"/>
<circle cx="1095.80" cy="259.50" r="8.0" fill="#fff" stroke="#ff7f0e" stroke-width="3.0"/>
<circle cx="1093.40" cy="289.80" r="8.0" fill="#fff" stroke="#ff7f0e" stroke-width="3.0"/>
<circle cx="1118.00" cy="307.10" r="8.0" fill="#fff" stroke="#ff7f0e" stroke-width="3.0"/>
<circle cx="1092.70" cy="350.40" r="8.0" fill="#fff" stroke="#ff7f0e" stroke-width="3.0"/>
<circle cx="1116.80" cy="363.70" r="8.0" fill="#fff" stroke="#ff7f0e" stroke-width="3.0"/>
<circle cx="1090.20" cy="370.70" r="8.0" fill="#fff" stroke="#ff7f0e" stroke-width="3.0"/>
<circle cx="1094.60" cy="396.00" r="8.0" fill="#fff" stroke="#ff7f0e" stroke-width="3.0"/>
<circle cx="1090.40" cy="489.00" r="8.0" fill="#fff" stroke="#ff7f0e" stroke-width="3.0"/>
<circle cx="1082.00" cy="496.60" r="8.0" fill="#fff" stroke="#ff7f0e" stroke-width="3.0"/>
<circle cx="1133.60" cy="661.20" r="8.0" fill="#fff" stroke="#ff7f0e" stroke-width="3.0"/>
<circle cx="1118.60" cy="591.30" r="8.0" fill="#fff" stroke="#ff7f0e" stroke-width="3.0"/>
<circle cx="1077.00" cy="704.00" r="8.0" fill="#fff" stroke="#ff7f0e" stroke-width="3.0"/>
<circle cx="1101.00" cy="735.00" r="8.0" fill="#fff" stroke="#ff7f0e" stroke-width="3.0"/>
<circle cx="1047.30" cy="764.30" r="8.0" fill="#fff" stroke="#ff7f0e" stroke-width="3.0"/>
<circle cx="1076.70" cy="781.00" r="8.0" fill="#fff" stroke="#ff7f0e" stroke-width="3.0"/>
<circle cx="1118.70" cy="804.70" r="8.0" fill="#fff" stroke="#ff7f0e" stroke-width="3.0"/>
<circle cx="1068.70" cy="826.30" r="8.0" fill="#fff" stroke="#ff7f0e" stroke-width="3.0"/>
<circle cx="1098.70" cy="841.70" r="8.0" fill="#fff" stroke="#ff7f0e" stroke-width="3.0"/>
<circle cx="1081.30" cy="859.70" r="8.0" fill="#fff" stroke="#ff7f0e" stroke-width="3.0"/>
<circle cx="1063.00" cy="921.00" r="8.0" fill="#fff" stroke="#ff7f0e" stroke-width="3.0"/>
<circle cx="1088.00" cy="965.00" r="8.0" fill="#fff" stroke="#ff7f0e" stroke-width="3.0"/>
<circle cx="1035.60" cy="1008.00" r="8.0" fill="#fff" stroke="#ff7f0e" stroke-width="3.0"/>
<circle cx="1081.60" cy="1095.60" r="8.0" fill="#fff" stroke="#ff7f0e" stroke-width="3.0"/>
<circle cx="1066.10" cy="358.00" r="8.0" fill="#fff" stroke="#d62728" stroke-width="3.0"/>
<circle cx="1073.70" cy="51.10" r="8.0" fill="#fff" stroke="#2ca02c" stroke-width="3.0"/>
<circle cx="1073.70" cy="98.30" r="8.0" fill="#fff" stroke="#2ca02c" stroke-width="3.0"/>
<circle cx="1073.70" cy="257.00" r="8.0" fill="#fff" stroke="#2ca02c" stroke-width="3.0"/>
<circle cx="1073.70" cy="287.80" r="8.0" fill="#fff" stroke="#2ca02c" stroke-width="3.0"/>
<circle cx="1073.70" cy="300.20" r="8.0" fill="#fff" stroke="#2ca02c" stroke-width="3.0"/>
<circle cx="1073.70" cy="347.20" r="8.0" fill="#fff" stroke="#2ca02c" stroke-width="3.0"/>
<circle cx="1073.70" cy="360.50" r="8.0" fill="#fff" stroke="#2ca02c" stroke-width="3.0"/>
<circle cx="1073.70" cy="368.10" r="8.0" fill="#fff" stroke="#2ca02c" stroke-width="3.0"/>
<circle cx="1073.70" cy="394.10" r="8.0" fill="#fff" stroke="#2ca02c" stroke-width="3.0"/>
<circle cx="1073.70" cy="481.40" r="8.0" fill="#fff" stroke="#2ca02c" stroke-width="3.0"/>
<circle cx="1073.70" cy="486.60" r="8.0" fill="#fff" stroke="#2ca02c" stroke-width="3.0"/>
<circle cx="1073.70" cy="567.40" r="8.0" fill="#fff" stroke="#2ca02c" stroke-width="3.0"/>
<circle cx="1073.70" cy="705.00" r="8.0" fill="#fff" stroke="#2ca02c" stroke-width="3.0"/>
<circle cx="1073.70" cy="722.00" r="8.0" fill="#fff" stroke="#2ca02c" stroke-width="3.0"/>
<circle cx="1073.70" cy="772.30" r="8.0" fill="#fff" stroke="#2ca02c" stroke-width="3.0"/>
<circle cx="1073.70" cy="780.00" r="8.0" fill="#fff" stroke="#2ca02c" stroke-width="3.0"/>
<circle cx="1073.70" cy="796.30" r="8.0" fill="#fff" stroke="#2ca02c" stroke-width="3.0"/>
<circle cx="1073.70" cy="820.00" r="8.0" fill="#fff" stroke="#2ca02c" stroke-width="3.0"/>
<circle cx="1073.70" cy="825.00" r="8.0" fill="#fff" stroke="#2ca02c" stroke-width="3.0"/>
<circle cx="1073.70" cy="855.00" r="8.0" fill="#fff" stroke="#2ca02c" stroke-width="3.0"/>
<circle cx="1073.70" cy="930.00" r="8.0" fill="#fff" stroke="#2ca02c" stroke-width="3.0"/>
<circle cx="1073.70" cy="942.00" r="8.0" fill="#fff" stroke="#2ca02c" stroke-width="3.0"/>
<circle cx="1073.70" cy="957.60" r="8.0" fill="#fff" stroke="#2ca02c" stroke-width="3.0"/>
<circle cx="1073.70" cy="1019.00" r="8.0" fill="#fff" stroke="#2ca02c" stroke-width="3.0"/>
<circle cx="1073.70" cy="1093.00" r="8.0" fill="#fff" stroke="#2ca02c" stroke-width="3.0"/>
<circle cx="1234.10" cy="76.90" r="8.0" fill="#fff" stroke="#d62728" stroke-width="3.0"/>
<circle cx="1341.20" cy="114.50" r="8.0" fill="#fff" stroke="#d62728" stroke-width="3.0"/>
<circle cx="1126.20" cy="261.90" r="8.0" fill="#fff" stroke="#d62728" stroke-width="3.0"/>
<circle cx="1164.90" cy="295.70" r="8.0" fill="#fff" stroke="#d62728" stroke-width="3.0"/>
<circle cx="1110.60" cy="305.60" r="8.0" fill="#fff" stroke="#d62728" stroke-width="3.0"/>
<circle cx="1087.00" cy="350.40" r="8.0" fill="#fff" stroke="#d62728" stroke-width="3.0"/>
<circle cx="1068.00" cy="368.10" r="8.0" fill="#fff" stroke="#d62728" stroke-width="3.0"/>
<circle cx="1048.40" cy="393.20" r="8.0" fill="#fff" stroke="#d62728" stroke-width="3.0"/>
<circle cx="1030.00" cy="438.20" r="8.0" fill="#fff" stroke="#d62728" stroke-width="3.0"/>
<circle cx="1047.20" cy="465.40" r="8.0" fill="#fff" stroke="#d62728" stroke-width="3.0"/>
<circle cx="1055.20" cy="523.90" r="8.0" fill="#fff" stroke="#d62728" stroke-width="3.0"/>
<circle cx="1048.70" cy="554.20" r="8.0" fill="#fff" stroke="#d62728" stroke-width="3.0"/>
<circle cx="1036.40" cy="701.00" r="8.0" fill="#fff" stroke="#d62728" stroke-width="3.0"/>
<circle cx="1043.60" cy="695.60" r="8.0" fill="#fff" stroke="#d62728" stroke-width="3.0"/>
<circle cx="1032.40" cy="759.00" r="8.0" fill="#fff" stroke="#d62728" stroke-width="3.0"/>
<circle cx="1039.00" cy="770.00" r="8.0" fill="#fff" stroke="#d62728" stroke-width="3.0"/>
<circle cx="1026.70" cy="781.00" r="8.0" fill="#fff" stroke="#d62728" stroke-width="3.0"/>
<circle cx="1023.30" cy="785.70" r="8.0" fill="#fff" stroke="#d62728" stroke-width="3.0"/>
<circle cx="1027.30" cy="810.30" r="8.0" fill="#fff" stroke="#d62728" stroke-width="3.0"/>
<circle cx="1027.30" cy="819.00" r="8.0" fill="#fff" stroke="#d62728" stroke-width="3.0"/>
<circle cx="1034.40" cy="898.00" r="8.0" fill="#fff" stroke="#d62728" stroke-width="3.0"/>
<circle cx="1020.00" cy="908.00" r="8.0" fill="#fff" stroke="#d62728" stroke-width="3.0"/>
<circle cx="1018.00" cy="917.00" r="8.0" fill="#fff" stroke="#d62728" stroke-width="3.0"/>
<circle cx="1018.00" cy="1003.60" r="8.0" fill="#fff" stroke="#d62728" stroke-width="3.0"/>
<circle cx="1010.00" cy="1075.60" r="8.0" fill="#fff" stroke="#d62728" stroke-width="3.0"/>
<rect x="1263.30" y="75.40" width="16.00" height="16.00" fill="#fff" stroke="#9467bd" stroke-width="3.0"/>
<rect x="1408.80" y="110.60" width="16.00" height="16.00" fill="#fff" stroke="#9467bd" stroke-width="3.0"/>
<rect x="1185.30" y="260.10" width="16.00" height="16.00" fill="#fff" stroke="#9467bd" stroke-width="3.0"/>
<rect x="996.60" y="274.20" width="16.00" height="16.00" fill="#fff" stroke="#9467bd" stroke-width="3.0"/>
<rect x="1087.30" y="295.40" width="16.00" height="16.00" fill="#fff" stroke="#9467bd" stroke-width="3.0"/>
<rect x="991.60" y="328.50" width="16.00" height="16.00" fill="#fff" stroke="#9467bd" stroke-width="3.0"/>
<rect x="1030.30" y="347.50" width="16.00" height="16.00" fill="#fff" stroke="#9467bd" stroke-width="3.0"/>
<rect x="989.70" y="351.50" width="16.00" height="16.00" fill="#fff" stroke="#9467bd" stroke-width="3.0"/>
<rect x="913.90" y="379.20" width="16.00" height="16.00" fill="#fff" stroke="#9467bd" stroke-width="3.0"/>
<rect x="1084.40" y="484.60" width="16.00" height="16.00" fill="#fff" stroke="#9467bd" stroke-width="3.0"/>
<rect x="1120.50" y="539.50" width="16.00" height="16.00" fill="#fff" stroke="#9467bd" stroke-width="3.0"/>
<rect x="998.90" y="524.10" width="16.00" height="16.00" fill="#fff" stroke="#9467bd" stroke-width="3.0"/>
<rect x="1065.40" y="547.00" width="16.00" height="16.00" fill="#fff" stroke="#9467bd" stroke-width="3.0"/>
<rect x="1000.40" y="677.60" width="16.00" height="16.00" fill="#fff" stroke="#9467bd" stroke-width="3.0"/>
<rect x="1134.40" y="717.60" width="16.00" height="16.00" fill="#fff" stroke="#9467bd" stroke-width="3.0"/>
<rect x="930.70" y="729.70" width="16.00" height="16.00" fill="#fff" stroke="#9467bd" stroke-width="3.0"/>
<rect x="950.00" y="727.40" width="16.00" height="16.00" fill="#fff" stroke="#9467bd" stroke-width="3.0"/>
<rect x="947.30" y="763.00" width="16.00" height="16.00" fill="#fff" stroke="#9467bd" stroke-width="3.0"/>
<rect x="949.30" y="781.30" width="16.00" height="16.00" fill="#fff" stroke="#9467bd" stroke-width="3.0"/>
<rect x="1049.30" y="798.60" width="16.00" height="16.00" fill="#fff" stroke="#9467bd" stroke-width="3.0"/>
<rect x="1078.70" y="857.70" width="16.00" height="16.00" fill="#fff" stroke="#9467bd" stroke-width="3.0"/>
<rect x="1016.00" y="913.60" width="16.00" height="16.00" fill="#fff" stroke="#9467bd" stroke-width="3.0"/>
<rect x="1053.60" y="921.00" width="16.00" height="16.00" fill="#fff" stroke="#9467bd" stroke-width="3.0"/>
<rect x="1091.00" y="932.00" width="16.00" height="16.00" fill="#fff" stroke="#9467bd" stroke-width="3.0"/>
<rect x="947.00" y="977.60" width="16.00" height="16.00" fill="#fff" stroke="#9467bd" stroke-width="3.0"/>
<rect x="960.00" y="1056.00" width="16.00" height="16.00" fill="#fff" stroke="#9467bd" stroke-width="3.0"/>
<circle cx="1073.70" cy="567.40" r="8.0" fill="#fff" stroke="#2ca02c" stroke-width="3.0"/>
<circle cx="1082.00" cy="496.60" r="8.0" fill="#fff" stroke="#ff7f0e" stroke-width="3.0"/>
<circle cx="1089.60" cy="960.00" r="8.0" fill="#fff" stroke="#1f77b4" stroke-width="3.0"/>
<circle cx="1110.60" cy="305.60" r="8.0" fill="#fff" stroke="#d62728" stroke-width="3.0"/>
<text x="788.70" y="1246.50" font-size="31.05" text-anchor="middle" textLength="65.24" lengthAdjust="spacingAndGlyphs">0.00</text>
<text x="889.15" y="1246.50" font-size="31.05" text-anchor="middle" textLength="65.24" lengthAdjust="spacingAndGlyphs">0.25</text>
<text x="989.60" y="1246.50" font-size="31.05" text-anchor="middle" textLength="65.24" lengthAdjust="spacingAndGlyphs">0.50</text>
<text x="1090.05" y="1246.50" font-size="31.05" text-anchor="middle" textLength="65.24" lengthAdjust="spacingAndGlyphs">0.75</text>
<text x="1190.50" y="1246.50" font-size="31.05" text-anchor="middle" textLength="65.24" lengthAdjust="spacingAndGlyphs">1.00</text>
<text x="1290.95" y="1246.50" font-size="31.05" text-anchor="middle" textLength="65.24" lengthAdjust="spacingAndGlyphs">1.25</text>
<text x="1391.40" y="1246.50" font-size="31.05" text-anchor="middle" textLength="65.24" lengthAdjust="spacingAndGlyphs">1.50</text>
<text x="1447.40" y="393.20" font-size="31.05" textLength="18.64" lengthAdjust="spacingAndGlyphs">6</text>
<text x="1447.40" y="329.90" font-size="31.05" textLength="18.64" lengthAdjust="spacingAndGlyphs">8</text>
<text x="1447.40" y="266.60" font-size="31.05" textLength="37.28" lengthAdjust="spacingAndGlyphs">10</text>
<text x="1447.40" y="203.30" font-size="31.05" textLength="37.28" lengthAdjust="spacingAndGlyphs">12</text>
<text x="1447.40" y="140.00" font-size="31.05" textLength="37.28" lengthAdjust="spacingAndGlyphs">14</text>
<text x="1447.40" y="76.70" font-size="31.05" textLength="37.28" lengthAdjust="spacingAndGlyphs">16</text>
<text x="1447.40" y="1215.60" font-size="31.05" textLength="18.64" lengthAdjust="spacingAndGlyphs">0</text>
<text x="1447.40" y="1035.60" font-size="31.05" textLength="18.64" lengthAdjust="spacingAndGlyphs">1</text>
<text x="1447.40" y="855.60" font-size="31.05" textLength="18.64" lengthAdjust="spacingAndGlyphs">2</text>
<text x="1447.40" y="675.60" font-size="31.05" textLength="18.64" lengthAdjust="spacingAndGlyphs">3</text>
<text x="1447.40" y="495.60" font-size="31.05" textLength="18.64" lengthAdjust="spacingAndGlyphs">4</text>
<text x="1288.42" y="90.69" font-size="19.50" textLength="25.95" lengthAdjust="spacingAndGlyphs" transform="rotate(-30.00 1288.42 90.69)">LiF</text>
<text x="1348.63" y="161.15" font-size="19.50" textLength="20.15" lengthAdjust="spacingAndGlyphs" transform="rotate(-30.00 1348.63 161.15)">Ar</text>
<text x="1208.12" y="257.54" font-size="19.50" textLength="33.32" lengthAdjust="spacingAndGlyphs" transform="rotate(-30.00 1208.12 257.54)">LiCl</text>
<text x="1183.43" y="304.36" font-size="19.50" textLength="43.00" lengthAdjust="spacingAndGlyphs" transform="rotate(-30.00 1183.43 304.36)">NaCl</text>
<text x="1127.85" y="329.32" font-size="19.50" textLength="42.04" lengthAdjust="spacingAndGlyphs" transform="rotate(-30.00 1127.85 329.32)">MgO</text>
<text x="1119.94" y="360.56" font-size="19.50" textLength="38.61" lengthAdjust="spacingAndGlyphs" transform="rotate(-30.00 1119.94 360.56)">CaO</text>
<text x="1168.73" y="369.87" font-size="19.50" textLength="31.46" lengthAdjust="spacingAndGlyphs" transform="rotate(-30.00 1168.73 369.87)">AlN</text>
<text x="899.49" y="381.22" font-size="19.50" textLength="12.85" lengthAdjust="spacingAndGlyphs" transform="rotate(-30.00 899.49 381.22)">C</text>
<text x="1177.83" y="416.71" font-size="19.50" textLength="26.39" lengthAdjust="spacingAndGlyphs" transform="rotate(-30.00 1177.83 416.71)">BN</text>
<text x="1001.30" y="442.22" font-size="19.50" textLength="38.46" lengthAdjust="spacingAndGlyphs" transform="rotate(-30 1001.30 442.22)"><tspan>TiO</tspan><tspan font-size="13.65" dy="3.6">2</tspan></text>
<text x="1117.49" y="484.19" font-size="19.50" textLength="35.95" lengthAdjust="spacingAndGlyphs" transform="rotate(-30.00 1117.49 484.19)">ZnS</text>
<text x="986.44" y="572.53" font-size="19.50" textLength="39.30" lengthAdjust="spacingAndGlyphs" transform="rotate(-30.00 986.44 572.53)">GaN</text>
<text x="1149.07" y="679.30" font-size="19.50" textLength="38.75" lengthAdjust="spacingAndGlyphs" transform="rotate(-30.00 1149.07 679.30)">ZnO</text>
<text x="1092.18" y="705.06" font-size="19.50" textLength="36.21" lengthAdjust="spacingAndGlyphs" transform="rotate(-30.00 1092.18 705.06)">CdS</text>
<text x="960.88" y="720.41" font-size="19.50" textLength="28.79" lengthAdjust="spacingAndGlyphs" transform="rotate(-30.00 960.88 720.41)">AlP</text>
<text x="1128.89" y="764.03" font-size="19.50" textLength="47.27" lengthAdjust="spacingAndGlyphs" transform="rotate(-30.00 1128.89 764.03)">ZnSe</text>
<text x="1119.92" y="789.62" font-size="19.50" textLength="29.64" lengthAdjust="spacingAndGlyphs" transform="rotate(-30.00 1119.92 789.62)">SiC</text>
<text x="1141.92" y="805.01" font-size="19.50" textLength="47.19" lengthAdjust="spacingAndGlyphs" transform="rotate(-30 1141.92 805.01)"><tspan>Cu</tspan><tspan font-size="13.65" dy="3.6">2</tspan><tspan dy="-3.6">O</tspan></text>
<text x="1166.49" y="815.37" font-size="19.50" textLength="36.63" lengthAdjust="spacingAndGlyphs" transform="rotate(-30.00 1166.49 815.37)">GaP</text>
<text x="1142.49" y="843.18" font-size="19.50" textLength="39.87" lengthAdjust="spacingAndGlyphs" transform="rotate(-30.00 1142.49 843.18)">AlAs</text>
<text x="1121.77" y="873.69" font-size="19.50" textLength="47.53" lengthAdjust="spacingAndGlyphs" transform="rotate(-30.00 1121.77 873.69)">CdSe</text>
<text x="1124.04" y="927.04" font-size="19.50" textLength="76.93" lengthAdjust="spacingAndGlyphs" transform="rotate(-30 1124.04 927.04)"><tspan>γ-CsSnI</tspan><tspan font-size="13.65" dy="3.6">3</tspan></text>
<text x="1118.15" y="958.85" font-size="19.50" textLength="28.18" lengthAdjust="spacingAndGlyphs" transform="rotate(-30.00 1118.15 958.85)">InP</text>
<text x="1109.70" y="983.74" font-size="19.50" textLength="47.71" lengthAdjust="spacingAndGlyphs" transform="rotate(-30.00 1109.70 983.74)">GaAs</text>
<text x="1094.08" y="1037.41" font-size="19.50" textLength="16.79" lengthAdjust="spacingAndGlyphs" transform="rotate(-30.00 1094.08 1037.41)">Si</text>
<text x="1094.68" y="1094.20" font-size="19.50" textLength="25.58" lengthAdjust="spacingAndGlyphs" transform="rotate(-30.00 1094.68 1094.20)">Ge</text>
<text x="1036.10" y="1284.00" font-size="31.05" textLength="18.64" lengthAdjust="spacingAndGlyphs" font-style="italic">μ</text>
<text x="1064.21" y="1284.00" font-size="31.05" textLength="78.57" lengthAdjust="spacingAndGlyphs">(bohr</text>
<text x="1141.95" y="1272.80" font-size="21.73" textLength="30.23" lengthAdjust="spacingAndGlyphs">−1</text>
<text x="1171.86" y="1284.00" font-size="31.05" textLength="11.43" lengthAdjust="spacingAndGlyphs">)</text>
<text x="22.70" y="619.7" font-size="31.05" text-anchor="middle" textLength="209.94" lengthAdjust="spacingAndGlyphs" transform="rotate(-90 22.70 619.7)" dy="0">Band gap (eV)</text>
<text x="1494.40" y="619.7" font-size="31.05" text-anchor="middle" textLength="209.94" lengthAdjust="spacingAndGlyphs" transform="rotate(-90 1494.40 619.7)" dy="0">Band gap (eV)</text>
<text x="55.1" y="22.9" font-size="30.6" font-weight="bold">a</text>
<text x="755.7" y="22.7" font-size="30.3" font-weight="bold" textLength="21.0" lengthAdjust="spacingAndGlyphs">b</text>
<text x="536.78" y="91.60" font-size="31.05" textLength="19.31" lengthAdjust="spacingAndGlyphs" font-style="italic">α</text>
<text x="556.07" y="95.90" font-size="21.73" textLength="10.69" lengthAdjust="spacingAndGlyphs" font-style="italic">s</text>
<path d="M576.00 84.13h18.34v2.43h-18.34zM576.00 78.30h18.34v2.43h-18.34z" fill="#000"/>
<text x="602.40" y="91.60" font-size="31.05" textLength="65.24" lengthAdjust="spacingAndGlyphs">0.25</text>
<text x="852.38" y="91.60" font-size="31.05" textLength="19.31" lengthAdjust="spacingAndGlyphs" font-style="italic">α</text>
<text x="871.77" y="95.90" font-size="21.73" textLength="10.69" lengthAdjust="spacingAndGlyphs" font-style="italic">s</text>
<path d="M891.80 84.13h18.34v2.43h-18.34zM891.80 78.30h18.34v2.43h-18.34z" fill="#000"/>
<text x="917.91" y="91.60" font-size="31.05" textLength="18.64" lengthAdjust="spacingAndGlyphs">1</text>
<circle cx="497.70" cy="1013.30" r="8.0" fill="#fff" stroke="#ff7f0e" stroke-width="3.0"/>
<circle cx="497.70" cy="1048.60" r="8.0" fill="#fff" stroke="#1f77b4" stroke-width="3.0"/>
<circle cx="497.70" cy="1089.10" r="8.0" fill="#fff" stroke="#2ca02c" stroke-width="3.0"/>
<circle cx="497.70" cy="1130.00" r="8.0" fill="#fff" stroke="#d62728" stroke-width="3.0"/>
<rect x="489.70" y="1160.20" width="16.00" height="16.00" fill="#fff" stroke="#9467bd" stroke-width="3.0"/>
<text x="522.50" y="1020.90" font-size="25.96" textLength="62.65" lengthAdjust="spacingAndGlyphs">PBE0</text>
<text x="522.90" y="1055.90" font-size="25.96" textLength="15.59" lengthAdjust="spacingAndGlyphs" font-style="italic">μ</text>
<path d="M544.50 1049.65h15.34v2.03h-15.34zM544.50 1044.78h15.34v2.03h-15.34z" fill="#000"/>
<text x="567.90" y="1055.90" font-size="25.96" textLength="15.59" lengthAdjust="spacingAndGlyphs" font-style="italic">μ</text>
<text x="584.40" y="1059.30" font-size="18.17" textLength="20.34" lengthAdjust="spacingAndGlyphs">TF</text>
<text x="522.90" y="1096.10" font-size="25.96" textLength="15.59" lengthAdjust="spacingAndGlyphs" font-style="italic">μ</text>
<path d="M544.50 1089.85h15.34v2.03h-15.34zM544.50 1084.98h15.34v2.03h-15.34z" fill="#000"/>
<text x="567.21" y="1096.10" font-size="25.96" textLength="54.55" lengthAdjust="spacingAndGlyphs">0.71</text>
<text x="625.50" y="1096.10" font-size="25.96" textLength="56.14" lengthAdjust="spacingAndGlyphs">bohr</text>
<text x="681.40" y="1085.50" font-size="18.17" textLength="25.28" lengthAdjust="spacingAndGlyphs">−1</text>
<text x="522.90" y="1137.30" font-size="25.96" textLength="15.59" lengthAdjust="spacingAndGlyphs" font-style="italic">μ</text>
<path d="M544.50 1131.05h15.34v2.03h-15.34zM544.50 1126.18h15.34v2.03h-15.34z" fill="#000"/>
<text x="567.90" y="1137.30" font-size="25.96" textLength="15.59" lengthAdjust="spacingAndGlyphs" font-style="italic">μ</text>
<text x="582.06" y="1144.20" font-size="18.17" textLength="10.87" lengthAdjust="spacingAndGlyphs">u</text>
<text x="583.63" y="1128.60" font-size="18.17" textLength="11.31" lengthAdjust="spacingAndGlyphs" font-style="italic">α</text>
<text x="594.87" y="1131.80" font-size="12.72" textLength="6.25" lengthAdjust="spacingAndGlyphs" font-style="italic">s</text>
<path d="M606.90 1124.23h10.74v1.42h-10.74zM606.90 1120.81h10.74v1.42h-10.74z" fill="#000"/>
<text x="621.39" y="1128.60" font-size="18.17" textLength="38.19" lengthAdjust="spacingAndGlyphs">0.25</text>
<text x="523.55" y="1175.40" font-size="25.96" textLength="62.09" lengthAdjust="spacingAndGlyphs">expt.</text>
<circle cx="1198.80" cy="1012.00" r="8.0" fill="#fff" stroke="#1f77b4" stroke-width="3.0"/>
<circle cx="1198.80" cy="1048.50" r="8.0" fill="#fff" stroke="#ff7f0e" stroke-width="3.0"/>
<circle cx="1198.80" cy="1089.00" r="8.0" fill="#fff" stroke="#2ca02c" stroke-width="3.0"/>
<circle cx="1198.80" cy="1130.00" r="8.0" fill="#fff" stroke="#d62728" stroke-width="3.0"/>
<rect x="1190.80" y="1160.20" width="16.00" height="16.00" fill="#fff" stroke="#9467bd" stroke-width="3.0"/>
<text x="1224.00" y="1018.80" font-size="25.96" textLength="15.59" lengthAdjust="spacingAndGlyphs" font-style="italic">μ</text>
<path d="M1245.60 1012.55h15.34v2.03h-15.34zM1245.60 1007.68h15.34v2.03h-15.34z" fill="#000"/>
<text x="1269.00" y="1018.80" font-size="25.96" textLength="15.59" lengthAdjust="spacingAndGlyphs" font-style="italic">μ</text>
<text x="1283.52" y="1023.30" font-size="18.17" textLength="90.19" lengthAdjust="spacingAndGlyphs">DD − CAM</text>
<text x="1224.00" y="1055.30" font-size="25.96" textLength="15.59" lengthAdjust="spacingAndGlyphs" font-style="italic">μ</text>
<path d="M1245.60 1049.05h15.34v2.03h-15.34zM1245.60 1044.18h15.34v2.03h-15.34z" fill="#000"/>
<text x="1269.00" y="1055.30" font-size="25.96" textLength="15.59" lengthAdjust="spacingAndGlyphs" font-style="italic">μ</text>
<text x="1283.52" y="1059.80" font-size="18.17" textLength="36.99" lengthAdjust="spacingAndGlyphs">DSH</text>
<text x="1224.00" y="1096.00" font-size="25.96" textLength="15.59" lengthAdjust="spacingAndGlyphs" font-style="italic">μ</text>
<path d="M1245.60 1089.75h15.34v2.03h-15.34zM1245.60 1084.88h15.34v2.03h-15.34z" fill="#000"/>
<text x="1268.31" y="1096.00" font-size="25.96" textLength="54.55" lengthAdjust="spacingAndGlyphs">0.71</text>
<text x="1327.10" y="1096.00" font-size="25.96" textLength="56.14" lengthAdjust="spacingAndGlyphs">bohr</text>
<text x="1381.50" y="1085.40" font-size="18.17" textLength="25.28" lengthAdjust="spacingAndGlyphs">−1</text>
<text x="1224.00" y="1137.30" font-size="25.96" textLength="15.59" lengthAdjust="spacingAndGlyphs" font-style="italic">μ</text>
<path d="M1245.60 1131.05h15.34v2.03h-15.34zM1245.60 1126.18h15.34v2.03h-15.34z" fill="#000"/>
<text x="1269.00" y="1137.30" font-size="25.96" textLength="15.59" lengthAdjust="spacingAndGlyphs" font-style="italic">μ</text>
<text x="1283.16" y="1144.20" font-size="18.17" textLength="10.87" lengthAdjust="spacingAndGlyphs">u</text>
<text x="1284.73" y="1128.60" font-size="18.17" textLength="11.31" lengthAdjust="spacingAndGlyphs" font-style="italic">α</text>
<text x="1295.97" y="1131.80" font-size="12.72" textLength="6.25" lengthAdjust="spacingAndGlyphs" font-style="italic">s</text>
<path d="M1307.70 1124.23h10.74v1.42h-10.74zM1307.70 1120.81h10.74v1.42h-10.74z" fill="#000"/>
<text x="1322.13" y="1128.60" font-size="18.17" textLength="10.91" lengthAdjust="spacingAndGlyphs">1</text>
<text x="1223.55" y="1175.40" font-size="25.96" textLength="62.09" lengthAdjust="spacingAndGlyphs">expt.</text>
</svg></body></html>
